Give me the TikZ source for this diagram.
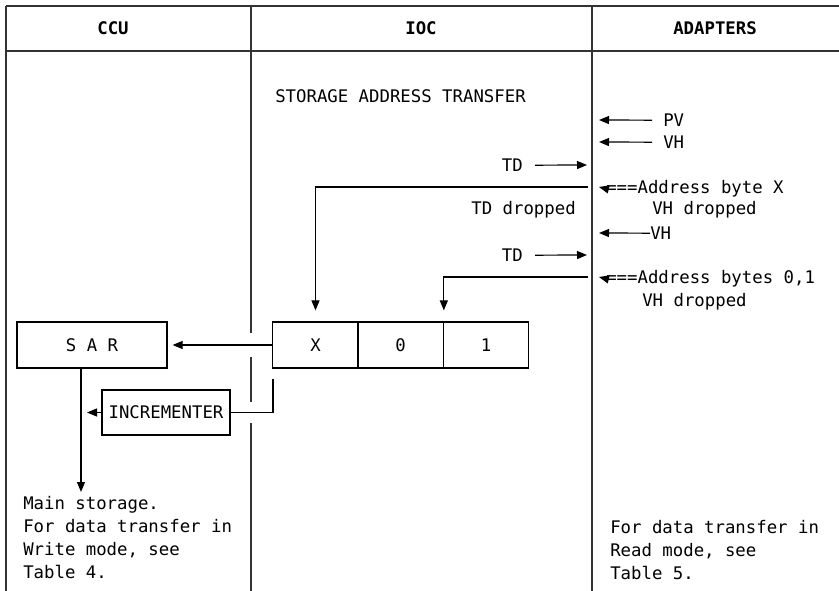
\documentclass[tikz,border=0pt]{standalone}
\usepackage{fontspec}
\setmainfont{DejaVu Sans Mono}
\usetikzlibrary{arrows.meta}

\tikzset{
  lbl/.style={inner sep=0pt, font=\fontsize{13}{17.25}\selectfont},
  hdr/.style={inner sep=0pt, font=\fontsize{13}{17.25}\selectfont\bfseries},
  box/.style={draw, line width=0.9pt, inner sep=0pt, font=\fontsize{13}{17.25}\selectfont},
  sig/.style={line width=0.9pt, -{Triangle[length=7.5pt,width=6pt]}},
  wire/.style={line width=0.9pt},
  rule/.style={line width=1.1pt, black!80},
}

\begin{document}
\begin{tikzpicture}[x=0.75pt,y=-0.75pt]
\useasboundingbox (0,0) rectangle (839,591);
% table frame
\draw[rule] (6,6) -- (839,6);
\draw[rule] (6,51) -- (839,51);
\draw[rule] (6,6) -- (6,591);
\draw[rule] (251,6) -- (251,333) (251,357) -- (251,402) (251,423) -- (251,591);
\draw[rule] (592,6) -- (592,591);
% headers
\node[hdr] (hccu) at (113,28) {CCU};
\node[hdr] (hioc) at (421,28) {IOC};
\node[hdr] (hadp) at (715,28) {ADAPTERS};
\node[lbl,anchor=base west] (title) at (275,103) {STORAGE ADDRESS TRANSFER};

% registers
\node[box,minimum width=112.5pt,minimum height=34.5pt] (sar) at (92,345) {S A R};
\node[box,minimum width=64.1pt,minimum height=34.5pt] (cx) at (315.5,345) {X};
\node[box,minimum width=64.1pt,minimum height=34.5pt] (c0) at (400.5,345) {0};
\node[box,minimum width=64.1pt,minimum height=34.5pt] (c1) at (486,345) {1};
\node[box,minimum width=96pt,minimum height=33.75pt] (inc) at (166,412.5) {INCREMENTER};

% adapter signals
\node[lbl,anchor=base west] (pv) at (663,126.5) {PV};
\node[lbl,anchor=base west] (vh1) at (663,148.5) {VH};
\node[lbl,anchor=base east] (td1) at (523,171.5) {TD};
\node[lbl,anchor=base west] (adrx) at (606,193.5) {===Address byte X};
\node[lbl,anchor=base east] (tddrop) at (576,214.5) {TD dropped};
\node[lbl,anchor=base west] (vhdrop1) at (652,214.5) {VH dropped};
\node[lbl,anchor=base west] (vh2) at (650,239.5) {VH};
\node[lbl,anchor=base east] (td2) at (523,261.5) {TD};
\node[lbl,anchor=base west] (adr01) at (606,283.5) {===Address bytes 0,1};
\node[lbl,anchor=base west] (vhdrop2) at (642,306.5) {VH dropped};

\coordinate (pvend) at (599,120);
\coordinate (vh1end) at (599,142);
\coordinate (td1end) at (587,165);
\coordinate (xsrc) at (588,187);
\coordinate (xtip) at (599,187);
\coordinate (vh2end) at (599,233);
\coordinate (td2end) at (587,255);
\coordinate (bsrc) at (588,277);
\coordinate (btip) at (599,277);

\draw[sig] ([xshift=-8.25pt]pv.west) -- (pvend);
\draw[sig] ([xshift=-8.25pt]vh1.west) -- (vh1end);
\draw[sig] ([xshift=9pt]td1.east) -- (td1end);
\draw[sig] (adrx.west) -- (xtip);
\draw[sig] (vh2.west) -- (vh2end);
\draw[sig] ([xshift=9pt]td2.east) -- (td2end);
\draw[sig] (adr01.west) -- (btip);

% address bytes into IOC
\draw[sig] (xsrc) -| ([yshift=8.25pt]cx.north);
\draw[sig] (bsrc) -| ([yshift=8.25pt]c0.north east);

% SAR and incrementer
\coordinate (incup) at (273,379);
\coordinate (incin) at (87,412.5);
\coordinate (mainst) at (81,492);
\draw[sig] (cx.west) -- ([xshift=3.75pt]sar.east);
\draw[wire] (inc.east) -| (incup);
\draw[sig] (inc.west) -- (incin);
\draw[sig] (sar.south -| mainst) -- (mainst);

% notes
\node[lbl,anchor=north west,align=left] (mainnote) at (23,496.5)
  {Main storage.\\For data transfer in\\Write mode, see\\Table 4.};
\node[lbl,anchor=north west,align=left] (readnote) at (610,520.5)
  {For data transfer in\\Read mode, see\\Table 5.};
\end{tikzpicture}
\end{document}
